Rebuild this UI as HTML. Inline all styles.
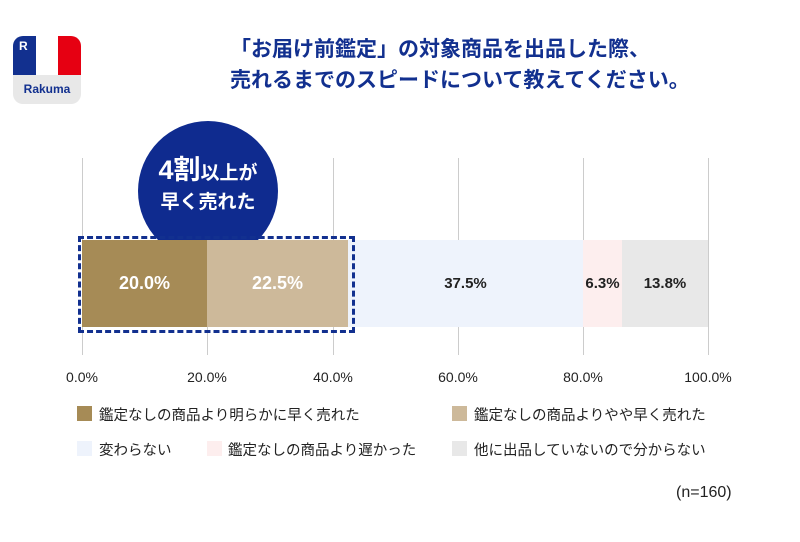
<!DOCTYPE html>
<html><head><meta charset="utf-8"><style>
body{margin:0;width:800px;height:542px;background:#fff;position:relative;overflow:hidden;font-family:"Liberation Sans","Noto Sans CJK JP",sans-serif;}
.a{position:absolute}
.title{left:230px;width:400px;top:34px;text-align:center;color:#12308f;font-weight:bold;font-size:21px;line-height:31px;white-space:nowrap}
.grid{top:158px;height:197px;width:1px;background:#ccc}
.tick{top:369px;font-size:14px;color:#222;width:80px;text-align:center;margin-left:-40px}
.seg{top:240px;height:87px;font-weight:bold;display:flex;align-items:center;justify-content:center;font-size:15px;color:#222}
.lg{font-size:14.5px;color:#222;white-space:nowrap}
.sw{width:15px;height:15px}
</style></head><body>
<div class="a" style="left:13px;top:36px;width:68px;height:68px;border-radius:10px;overflow:hidden;background:#e8e8e8">
 <div class="a" style="left:0;top:0;width:68px;height:39px;background:#fff"></div>
 <div class="a" style="left:0;top:0;width:23px;height:39px;background:#12308f"></div>
 <div class="a" style="left:45px;top:0;width:23px;height:39px;background:#e60012"></div>
 <div class="a" style="left:6px;top:3px;color:#fff;font-weight:bold;font-size:12px">R</div>
 <div class="a" style="left:0;width:68px;top:46px;text-align:center;color:#12308f;font-weight:bold;font-size:12px">Rakuma</div>
</div>
<div class="a title">「お届け前鑑定」の対象商品を出品した際、<br>売れるまでのスピードについて教えてください。</div>
<div class="a grid" style="left:82px"></div><div class="a grid" style="left:207px"></div><div class="a grid" style="left:333px"></div><div class="a grid" style="left:458px"></div><div class="a grid" style="left:583px"></div><div class="a grid" style="left:708px"></div>
<div class="a" style="left:138px;top:121px;width:140px;height:140px;border-radius:50%;background:#0f2b8f;color:#fff;font-weight:bold;text-align:center">
 <div style="margin-top:33px;font-size:27px;line-height:32px">4割<span style="font-size:19px">以上が</span></div>
 <div style="font-size:19px;line-height:26px">早く売れた</div>
</div>
<div class="a seg" style="left:82px;width:125px;background:#a68b56;color:#fff;font-size:18px">20.0%</div>
<div class="a seg" style="left:207px;width:141px;background:#cdb99a;color:#fff;font-size:18px">22.5%</div>
<div class="a seg" style="left:348px;width:235px;background:#eef3fc">37.5%</div>
<div class="a seg" style="left:583px;width:39px;background:#fdeeee">6.3%</div>
<div class="a seg" style="left:622px;width:86px;background:#e8e8e8">13.8%</div>
<div class="a" style="left:78px;top:236px;width:271px;height:91px;border:3px dashed #12308f"></div>
<div class="a tick" style="left:82px">0.0%</div><div class="a tick" style="left:207px">20.0%</div><div class="a tick" style="left:333px">40.0%</div><div class="a tick" style="left:458px">60.0%</div><div class="a tick" style="left:583px">80.0%</div><div class="a tick" style="left:708px">100.0%</div>
<div class="a sw" style="left:77px;top:406px;background:#a68b56"></div><div class="a lg" style="left:99px;top:404px">鑑定なしの商品より明らかに早く売れた</div>
<div class="a sw" style="left:452px;top:406px;background:#cdb99a"></div><div class="a lg" style="left:474px;top:404px">鑑定なしの商品よりやや早く売れた</div>
<div class="a sw" style="left:77px;top:441px;background:#eef3fc"></div><div class="a lg" style="left:99px;top:439px">変わらない</div>
<div class="a sw" style="left:207px;top:441px;background:#fdeeee"></div><div class="a lg" style="left:228px;top:439px">鑑定なしの商品より遅かった</div>
<div class="a sw" style="left:452px;top:441px;background:#e8e8e8"></div><div class="a lg" style="left:474px;top:439px">他に出品していないので分からない</div>
<div class="a lg" style="left:676px;top:484px;font-size:16px">(n=160)</div>
</body></html>
